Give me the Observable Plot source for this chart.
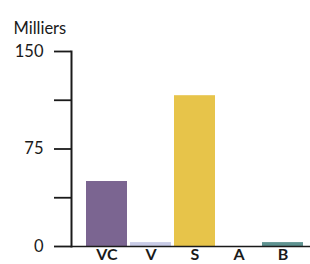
<!DOCTYPE html>
<html>
<head>
<meta charset="utf-8">
<script src="https://cdn.jsdelivr.net/npm/d3@7"></script>
<script src="https://cdn.jsdelivr.net/npm/@observablehq/plot@0.6"></script>
<style>
  html, body { margin: 0; padding: 0; background: #fff; }
  svg { display: block; }
</style>
</head>
<body>
<div id="chart"></div>
<script>
const categories = ["VC", "V", "S", "A", "B"];
const values = [50, 3, 116, 0, 3];
const colors = ["#7b6591", "#c8cbe6", "#e7c44a", "#999999", "#5e9290"];
const yTicks = [0, 37.5, 75, 112.5, 150];
const yTickLabels = {0: "0", 75: "75", 150: "150"};
const unitLabel = ["Milliers"];

const data = categories.map((c, i) => ({cat: c, value: values[i], color: colors[i]}));
const font = "Lato, 'Open Sans', sans-serif";

const chart = Plot.plot({
  width: 310,
  height: 264,
  marginLeft: 71,
  marginRight: 0,
  marginTop: 51,
  marginBottom: 18,
  style: {fontFamily: font, background: "#fff", overflow: "visible"},
  x: {domain: categories, range: [84.5, 304.5], paddingInner: 0.07, paddingOuter: 0},
  y: {domain: [0, 150]},
  marks: [
    Plot.barY(data, {x: "cat", y: "value", fill: "color"}),
    Plot.frame({anchor: "left", stroke: "#1a1a1a", strokeWidth: 2}),
    Plot.ruleY([0], {stroke: "#1a1a1a", strokeWidth: 1.6}),
    Plot.axisY({
      ticks: yTicks,
      tickSize: 17,
      tickPadding: 11,
      tickFormat: d => yTickLabels[d] ?? "",
      label: null,
      fontSize: 16.5,
      stroke: "#1a1a1a",
      strokeWidth: 1.8,
      fill: "#1a1a1a"
    }),
    Plot.axisX({
      tickSize: 0,
      tickPadding: 2.5,
      label: null,
      fontSize: 16,
      fontWeight: "bold",
      fill: "#1a1a1a"
    }),
    Plot.text(unitLabel, {
      frameAnchor: "top-left",
      text: d => d,
      dx: -58,
      dy: -29,
      textAnchor: "start",
      fontSize: 16.5,
      fill: "#1a1a1a"
    })
  ]
});
document.getElementById("chart").append(chart);
</script>
</body>
</html>
